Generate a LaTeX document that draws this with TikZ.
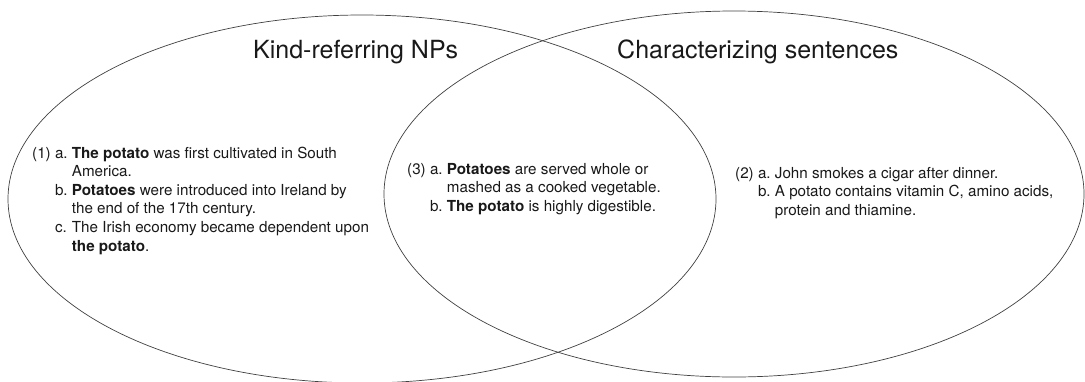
\documentclass[tikz,border=0pt]{standalone}
\usepackage{fontspec}
\setmainfont{TeX Gyre Heros}
\usetikzlibrary{shapes.geometric}
\begin{document}
\begin{tikzpicture}[x=1pt,y=-1pt,
  venn/.style={ellipse,draw=black!75,line width=0.7pt,inner sep=0pt,outer sep=0pt},
  titletext/.style={anchor=base west,inner sep=0pt,font=\fontsize{25}{30}\selectfont,text=black!90},
  extext/.style={anchor=base west,inner sep=0pt,font=\fontsize{15.2}{18.6}\selectfont,text=black!90}]
\useasboundingbox (0,0) rectangle (1085,381);
\node[venn,minimum width=708pt,minimum height=368pt] (L) at (362,199) {};
\node[venn,minimum width=700pt,minimum height=366pt] (R) at (734,194) {};
\node[titletext] (tl) at (253,58) {Kind-referring NPs};
\node[titletext] (tr) at (617,58) {Characterizing sentences};
\node[extext] (ex1) at (32,158) {\begin{tabular}[t]{@{}l@{\ }l@{\ }l@{}}
(1) & a. & \textbf{The potato} was first cultivated in South\\
 & & America.\\
 & b. & \textbf{Potatoes} were introduced into Ireland by\\
 & & the end of the 17th century.\\
 & c. & The Irish economy became dependent upon\\
 & & \textbf{the potato}.
\end{tabular}};
\node[extext] (ex3) at (407,174) {\begin{tabular}[t]{@{}l@{\ }l@{\ }l@{}}
(3) & a. & \textbf{Potatoes} are served whole or\\
 & & mashed as a cooked vegetable.\\
 & b. & \textbf{The potato} is highly digestible.
\end{tabular}};
\node[extext] (ex2) at (735,178) {\begin{tabular}[t]{@{}l@{\ }l@{\ }l@{}}
(2) & a. & John smokes a cigar after dinner.\\
 & b. & A potato contains vitamin C, amino acids,\\
 & & protein and thiamine.
\end{tabular}};
\end{tikzpicture}
\end{document}
